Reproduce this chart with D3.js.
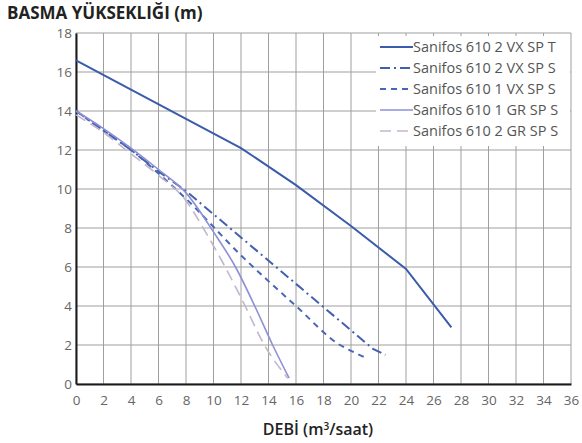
<!DOCTYPE html>
<html>
<head>
<meta charset="utf-8">
<script src="https://cdn.jsdelivr.net/npm/d3@7"></script>
<style>
  body { margin: 0; background: #fff; }
  svg { display: block; font-family: "Open Sans", "DejaVu Sans", sans-serif; }
</style>
</head>
<body>
<svg width="582" height="443"></svg>
<script>
// debi (m3/saat) ve basma yuksekligi (m)
var names = ["Sanifos 610 2 VX SP T", "Sanifos 610 2 VX SP S", "Sanifos 610 1 VX SP S", "Sanifos 610 1 GR SP S", "Sanifos 610 2 GR SP S"];

var flow2VXT = [0, 4, 8, 12, 16, 20, 24, 27.3];
var head2VXT = [16.6, 15.1, 13.6, 12.1, 10.2, 8.1, 5.9, 2.9];

var flow2VXS = [0, 2, 4, 6, 8, 8.5, 21.6, 22.5];
var head2VXS = [14, 13, 12, 10.9, 9.9, 9.6, 1.8, 1.5];

var flow1VXS = [0, 2, 4, 6, 8, 12, 16, 19.2, 20, 21.2];
var head1VXS = [14, 13, 12, 10.8, 9.5, 6.6, 4.0, 2.0, 1.7, 1.3];

var flow1GR = [0, 2, 4, 6, 8, 10, 11.6, 13, 14.3, 15.5];
var head1GR = [14, 13.1, 12.1, 11, 9.8, 7.8, 6, 4, 2, 0.3];

var flow2GR = [0, 2, 4, 6, 8, 9.5, 10.85, 12.3, 13.7, 15.4];
var head2GR = [13.8, 12.9, 11.8, 10.7, 9.4, 7.7, 6, 4, 2, 0.3];

var xTicks = d3.range(0, 37, 2);
var yTicks = d3.range(0, 19, 2);

var svg = d3.select("svg"),
    plotLeft = 76, plotRight = 571, plotTop = 33, plotBottom = 384;

var x = d3.scaleLinear().domain([0, 36]).range([plotLeft, plotRight]);
var y = d3.scaleLinear().domain([0, 18]).range([plotBottom, plotTop]);

var series = [
  { name: names[0], xs: flow2VXT, ys: head2VXT, color: "#3b5bab", width: 2, dash: null, curve: d3.curveLinear },
  { name: names[1], xs: flow2VXS, ys: head2VXS, color: "#4360ad", width: 2, dash: "10,4,2,4", curve: d3.curveLinear },
  { name: names[2], xs: flow1VXS, ys: head1VXS, color: "#4766b5", width: 2, dash: "6,5", curve: d3.curveMonotoneX },
  { name: names[3], xs: flow1GR, ys: head1GR, color: "#8e8fd6", width: 1.6, dash: null, curve: d3.curveMonotoneX },
  { name: names[4], xs: flow2GR, ys: head2GR, color: "#c2b6cc", width: 1.6, dash: "11,6", curve: d3.curveMonotoneX }
];

// grid
var grid = svg.append("g").attr("class", "grid");
grid.selectAll("line.v")
    .data(xTicks)
    .enter().append("line")
    .attr("class", "v")
    .attr("x1", function(d) { return x(d); })
    .attr("x2", function(d) { return x(d); })
    .attr("y1", plotTop)
    .attr("y2", plotBottom)
    .attr("stroke", "#9f9f9f")
    .attr("stroke-width", 1);

grid.selectAll("line.h")
    .data(yTicks)
    .enter().append("line")
    .attr("class", "h")
    .attr("x1", plotLeft)
    .attr("x2", plotRight)
    .attr("y1", function(d) { return y(d); })
    .attr("y2", function(d) { return y(d); })
    .attr("stroke", "#9f9f9f")
    .attr("stroke-width", 1);

// axes
var xAxis = svg.append("g")
    .attr("transform", "translate(0," + plotBottom + ")")
    .call(d3.axisBottom(x).tickValues(xTicks).tickSize(0).tickPadding(11));
var yAxis = svg.append("g")
    .attr("transform", "translate(" + plotLeft + ",0)")
    .call(d3.axisLeft(y).tickValues(yTicks).tickSize(0).tickPadding(4));

[xAxis, yAxis].forEach(function(a) {
  a.select(".domain").attr("stroke", "#1a1a1a").attr("stroke-width", 2);
  a.selectAll("text")
      .attr("fill", "#666")
      .style("font-size", "13.5px")
      .style("font-family", "'Open Sans', sans-serif");
});

// curves
var line = d3.line()
    .x(function(d) { return x(d[0]); })
    .y(function(d) { return y(d[1]); });

svg.append("g").selectAll("path")
    .data(series)
    .enter().append("path")
    .attr("fill", "none")
    .attr("stroke", function(d) { return d.color; })
    .attr("stroke-width", function(d) { return d.width; })
    .attr("stroke-dasharray", function(d) { return d.dash; })
    .attr("d", function(d) {
      return line.curve(d.curve)(d.xs.map(function(v, i) { return [v, d.ys[i]]; }));
    });

// legend
var legend = svg.append("g");
legend.append("rect")
    .attr("x", 376).attr("y", 36)
    .attr("width", plotRight - 377).attr("height", 110)
    .attr("fill", "#fff");

var item = legend.selectAll("g.item")
    .data(series)
    .enter().append("g")
    .attr("class", "item")
    .attr("transform", function(d, i) { return "translate(380," + (47 + i * 21) + ")"; });

item.append("line")
    .attr("x1", 0).attr("x2", 33)
    .attr("stroke", function(d) { return d.color; })
    .attr("stroke-width", function(d) { return d.width; })
    .attr("stroke-dasharray", function(d) { return d.dash; });

item.append("text")
    .attr("x", 33)
    .attr("dy", "0.35em")
    .attr("fill", "#555")
    .style("font-size", "14.5px")
    .text(function(d) { return d.name; });

// titles
svg.append("text")
    .attr("x", 7).attr("y", 19)
    .attr("fill", "#222")
    .style("font-size", "17px")
    .style("font-weight", "bold")
    .text("BASMA YÜKSEKLIĞI (m)");

svg.append("text")
    .attr("x", 318).attr("y", 435)
    .attr("text-anchor", "middle")
    .attr("fill", "#222")
    .style("font-size", "16px")
    .style("font-weight", "600")
    .html("DEBİ (m<tspan dy='-5' font-size='10'>3</tspan><tspan dy='5'>/saat)</tspan>");
</script>
</body>
</html>
